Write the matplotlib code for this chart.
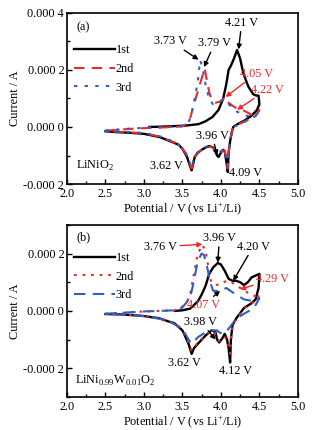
import matplotlib
matplotlib.use("Agg")
import matplotlib.pyplot as plt
from matplotlib.ticker import FuncFormatter, MultipleLocator
import numpy as np

plt.rcParams['font.family'] = ['Liberation Serif', 'DejaVu Serif']
plt.rcParams['mathtext.fontset'] = 'custom'
plt.rcParams['mathtext.rm'] = 'Liberation Serif'
plt.rcParams['font.size'] = 8.8

FS = 8.8
RED = '#f02828'
BLUE = '#2f5fc0'

# ---- panel (a) LiNiO2, potential (V) and current (1e-4 A) ----
a1_v = [3.07, 3.3, 3.54, 3.71, 3.80, 3.89, 3.97, 4.03, 4.07, 4.10, 4.13, 4.17, 4.21, 4.25, 4.29,
        4.33, 4.36, 4.42, 4.46, 4.49, 4.50, 4.47, 4.40, 4.31, 4.23, 4.18, 4.16, 4.14, 4.12, 4.10,
        4.09, 4.07, 4.05, 4.03, 4.00, 3.97, 3.95, 3.93, 3.90, 3.85, 3.80, 3.75, 3.70, 3.66, 3.62,
        3.59, 3.56, 3.50, 3.45, 3.37, 3.2, 3.0, 2.8, 2.64, 2.5]
a1_i = [0.00, 0.02, 0.05, 0.10, 0.2, 0.35, 0.6, 1.0, 1.5, 2.0, 2.15, 2.4, 2.7, 2.4, 1.9,
        1.6, 1.4, 1.15, 1.1, 1.1, 0.8, 0.6, 0.4, 0.23, 0.12, 0.04, 0.0, -0.2, -0.5, -0.9,
        -1.58, -1.2, -0.85, -0.8, -0.9, -1.05, -1.0, -0.85, -0.72, -0.67, -0.72, -0.8, -0.9, -1.05, -1.52,
        -1.3, -1.05, -0.76, -0.62, -0.53, -0.35, -0.24, -0.2, -0.18, -0.15]

a2_v = [2.5, 2.8, 3.0, 3.3, 3.5, 3.56, 3.60, 3.65, 3.70, 3.75, 3.79, 3.82, 3.85, 3.88, 3.93,
        4.00, 4.05, 4.10, 4.15, 4.22, 4.28, 4.35, 4.42, 4.47, 4.50, 4.45, 4.35, 4.25, 4.18, 4.15,
        4.12, 4.10, 4.09, 4.07, 4.05, 4.02, 3.99, 3.97, 3.95, 3.92, 3.88, 3.82, 3.75, 3.70, 3.66,
        3.62, 3.59, 3.56, 3.50, 3.4, 3.2, 3.0, 2.7, 2.5]
a2_i = [-0.13, -0.07, -0.04, -0.01, 0.02, 0.12, 0.3, 0.8, 1.25, 1.7, 2.05, 1.6, 1.2, 0.95, 0.85,
        0.9, 1.05, 0.85, 0.75, 0.62, 0.6, 0.5, 0.4, 0.45, 0.6, 0.4, 0.25, 0.12, 0.03, -0.1,
        -0.45, -0.9, -1.45, -1.1, -0.85, -0.82, -0.9, -1.0, -0.95, -0.8, -0.7, -0.7, -0.8, -0.9, -1.05,
        -1.45, -1.25, -1.0, -0.75, -0.55, -0.33, -0.22, -0.17, -0.15]

a3_v = [2.5, 2.8, 3.0, 3.3, 3.5, 3.58, 3.62, 3.66, 3.70, 3.73, 3.76, 3.80, 3.85, 3.90, 3.95,
        4.02, 4.06, 4.12, 4.2, 4.3, 4.4, 4.47, 4.5, 4.45, 4.35, 4.25, 4.18, 4.15, 4.12, 4.10,
        4.09, 4.07, 4.05, 4.02, 3.99, 3.97, 3.95, 3.92, 3.88, 3.82, 3.75, 3.70, 3.66, 3.62, 3.59,
        3.56, 3.50, 3.4, 3.2, 3.0, 2.7, 2.5]
a3_i = [-0.12, -0.06, -0.03, 0.0, 0.03, 0.15, 0.5, 1.0, 1.6, 2.34, 2.1, 1.5, 0.95, 0.8, 0.85,
        0.95, 0.95, 0.75, 0.55, 0.42, 0.35, 0.45, 0.55, 0.38, 0.24, 0.11, 0.02, -0.1, -0.42, -0.85,
        -1.4, -1.05, -0.82, -0.8, -0.88, -0.98, -0.93, -0.78, -0.68, -0.68, -0.78, -0.88, -1.02, -1.42, -1.22,
        -0.98, -0.73, -0.53, -0.32, -0.21, -0.16, -0.14]

# ---- panel (b) LiNi0.99W0.01O2 ----
b1_v = [3.40, 3.5, 3.6, 3.7, 3.75, 3.8, 3.85, 3.9, 3.96, 4.0, 4.05, 4.1, 4.15, 4.2, 4.25,
        4.3, 4.35, 4.4, 4.45, 4.5, 4.49, 4.45, 4.4, 4.3, 4.25, 4.2, 4.15, 4.13, 4.12, 4.10,
        4.08, 4.05, 4.02, 3.98, 3.95, 3.93, 3.88, 3.8, 3.7, 3.65, 3.62, 3.58, 3.5, 3.4, 3.2,
        3.0, 2.7, 2.5]
b1_i = [0.0, 0.02, 0.08, 0.33, 0.57, 0.87, 1.3, 1.52, 1.67, 1.62, 1.4, 1.12, 1.05, 1.05, 1.0,
        0.9, 1.0, 1.17, 1.23, 1.29, 0.8, 0.4, 0.27, 0.1, -0.08, -0.26, -0.5, -1.0, -1.8, -1.3,
        -1.0, -0.8, -0.95, -1.1, -1.0, -0.74, -0.68, -0.86, -1.15, -1.3, -1.5, -1.15, -0.68, -0.44, -0.26,
        -0.18, -0.12, -0.11]

b2_v = [2.5, 3.0, 3.4, 3.5, 3.55, 3.6, 3.65, 3.7, 3.76, 3.8, 3.83, 3.87, 3.92, 4.0, 4.07,
        4.15, 4.2, 4.29, 4.35, 4.45, 4.5, 4.47, 4.4, 4.3, 4.25, 4.2, 4.15, 4.13, 4.12, 4.10,
        4.07, 4.03, 3.99, 3.95, 3.92, 3.88, 3.8, 3.7, 3.62, 3.58, 3.5, 3.4, 3.2, 3.0, 2.7, 2.5]
b2_i = [-0.11, -0.02, 0.02, 0.15, 0.27, 0.57, 1.3, 2.0, 2.3, 2.1, 1.64, 1.05, 0.9, 0.93, 1.05,
        0.98, 0.87, 0.75, 0.63, 0.51, 0.6, 0.4, 0.25, 0.08, -0.1, -0.28, -0.55, -1.0, -1.5, -1.2,
        -0.95, -0.9, -1.05, -1.0, -0.75, -0.7, -0.85, -1.1, -1.38, -1.1, -0.66, -0.42, -0.25, -0.17, -0.12, -0.11]

b3_v = [2.5, 3.0, 3.4, 3.5, 3.6, 3.65, 3.7, 3.75, 3.78, 3.82, 3.86, 3.9, 4.0, 4.07, 4.15,
        4.3, 4.45, 4.5, 4.45, 4.4, 4.3, 4.2, 4.15, 4.1, 4.07, 4.02, 3.98, 3.95, 3.9, 3.8,
        3.7, 3.62, 3.58, 3.5, 3.3, 3.0, 2.5]
b3_i = [-0.1, -0.02, 0.02, 0.12, 0.45, 1.05, 1.75, 2.0, 1.95, 1.55, 1.0, 0.7, 0.7, 0.8, 0.65,
        0.4, 0.33, 0.45, 0.2, 0.05, -0.1, -0.27, -0.45, -0.62, -0.74, -0.8, -0.75, -0.68, -0.68, -0.75,
        -0.92, -1.15, -1.0, -0.62, -0.32, -0.18, -0.1]

cycle_labels = ['1st', '2nd', '3rd']


def amp(vals):
    return np.array(vals) * 1e-4


def yfmt(v, pos):
    s = '%.4f' % v
    if s == '-0.0000':
        s = '0.0000'
    return s[:-1] + ' ' + s[-1]


def style_axes(ax, ylim, ymaj):
    ax.set_xlim(2.0, 5.0)
    ax.set_ylim(*ylim)
    ax.xaxis.set_major_locator(MultipleLocator(0.5))
    ax.xaxis.set_minor_locator(MultipleLocator(0.25))
    ax.yaxis.set_major_locator(MultipleLocator(ymaj))
    ax.yaxis.set_minor_locator(MultipleLocator(ymaj / 2))
    ax.yaxis.set_major_formatter(FuncFormatter(yfmt))
    ax.xaxis.set_major_formatter(FuncFormatter(lambda v, p: '%.1f' % v))
    ax.tick_params(which='both', direction='in', top=False, right=False, labelsize=FS, pad=2)
    ax.tick_params(axis='x', which='major', pad=3)
    ax.tick_params(which='major', length=3.5, width=1)
    ax.tick_params(which='minor', length=2, width=1)
    for sp in ax.spines.values():
        sp.set_linewidth(1.2)
    ax.set_xlabel('Potential / V (vs Li$^{+}$/Li)', fontsize=FS, labelpad=0)
    ax.set_ylabel('Current / A', fontsize=FS, labelpad=2)


fig = plt.figure(figsize=(3.22, 4.30), dpi=100)
ax1 = fig.add_axes([0.208, 0.572, 0.717, 0.398])
ax2 = fig.add_axes([0.208, 0.077, 0.717, 0.400])

# panel (a)
ax1.plot(a1_v, amp(a1_i), color='black', lw=1.7, label=cycle_labels[0])
ax1.plot(a2_v, amp(a2_i), color=RED, lw=1.5, dashes=(5, 3.5), label=cycle_labels[1])
ax1.plot(a3_v, amp(a3_i), color=BLUE, lw=1.5, dashes=(1.6, 3.5), label=cycle_labels[2])
style_axes(ax1, (-0.0002, 0.0004), 0.0002)
ax1.legend(loc='upper left', bbox_to_anchor=(0.0, 0.86), frameon=False, handlelength=3.3,
           handletextpad=0.1, labelspacing=0.55, borderaxespad=0.2, fontsize=FS)
ax1.text(2.12, 0.00035, '(a)', fontsize=FS, va='center')
ax1.text(2.12, -0.000135, 'LiNiO$_2$', fontsize=FS, va='center')

blk = dict(arrowstyle='-|>', color='black', lw=1.0, mutation_scale=7, shrinkA=0, shrinkB=0)
red = dict(arrowstyle='-|>', color=RED, lw=1.0, mutation_scale=7, shrinkA=0, shrinkB=0)
ax1.annotate('4.21 V', xy=(4.23, 0.000272), xytext=(4.27, 0.000365), ha='center', va='center',
             arrowprops=blk, fontsize=FS)
ax1.annotate('3.73 V', xy=(3.71, 0.000236), xytext=(3.35, 0.0003), ha='center', va='center',
             arrowprops=blk, fontsize=FS)
ax1.annotate('3.79 V', xy=(3.78, 0.00021), xytext=(3.92, 0.000293), ha='center', va='center',
             arrowprops=blk, fontsize=FS)
ax1.annotate('4.05 V', xy=(4.06, 0.000105), xytext=(4.46, 0.000187), ha='center', va='center',
             arrowprops=red, fontsize=FS, color=RED)
ax1.annotate('4.22 V', xy=(4.21, 0.00006), xytext=(4.6, 0.000131), ha='center', va='center',
             arrowprops=red, fontsize=FS, color=RED)
ax1.annotate('3.96 V', xy=(3.95, -0.0001), xytext=(3.89, -0.00003), ha='center', va='center',
             arrowprops=blk, fontsize=FS)
ax1.text(3.29, -0.000137, '3.62 V', ha='center', va='center', fontsize=FS)
ax1.text(4.32, -0.00016, '4.09 V', ha='center', va='center', fontsize=FS)

# panel (b)
ax2.plot(b1_v, amp(b1_i), color='black', lw=1.7, label=cycle_labels[0])
ax2.plot(b2_v, amp(b2_i), color=RED, lw=1.5, dashes=(1.3, 2.8), label=cycle_labels[1])
ax2.plot(b3_v, amp(b3_i), color=BLUE, lw=1.5, dashes=(5.5, 3.5), label=cycle_labels[2])
style_axes(ax2, (-0.0003, 0.0003), 0.0002)
ax2.legend(loc='upper left', bbox_to_anchor=(0.0, 0.885), frameon=False, handlelength=3.3,
           handletextpad=0.1, labelspacing=0.55, borderaxespad=0.2, fontsize=FS)
ax2.text(2.12, 0.000257, '(b)', fontsize=FS, va='center')
ax2.text(2.1, -0.000246, 'LiNi$_{0.99}$W$_{0.01}$O$_2$', fontsize=FS, va='center')

ax2.annotate('3.76 V', xy=(3.76, 0.000232), xytext=(3.22, 0.000224), ha='center', va='center',
             arrowprops=red, fontsize=FS)
ax2.annotate('3.96 V', xy=(3.96, 0.000168), xytext=(3.98, 0.000254), ha='center', va='center',
             arrowprops=blk, fontsize=FS)
ax2.annotate('4.20 V', xy=(4.16, 0.000105), xytext=(4.42, 0.000224), ha='center', va='center',
             arrowprops=blk, fontsize=FS)
ax2.annotate('4.29 V', xy=(4.25, 0.000075), xytext=(4.67, 0.000111), ha='center', va='center',
             arrowprops=red, fontsize=FS, color=RED)
ax2.annotate('4.07 V', xy=(3.99, 0.00007), xytext=(3.77, 0.00002), ha='center', va='center',
             arrowprops=blk, fontsize=FS, color=RED)
ax2.annotate('3.98 V', xy=(3.93, -0.0001), xytext=(3.74, -0.000038), ha='center', va='center',
             arrowprops=blk, fontsize=FS)
ax2.text(3.52, -0.000181, '3.62 V', ha='center', va='center', fontsize=FS)
ax2.text(4.19, -0.00021, '4.12 V', ha='center', va='center', fontsize=FS)

fig.savefig('out.png', dpi=100)
